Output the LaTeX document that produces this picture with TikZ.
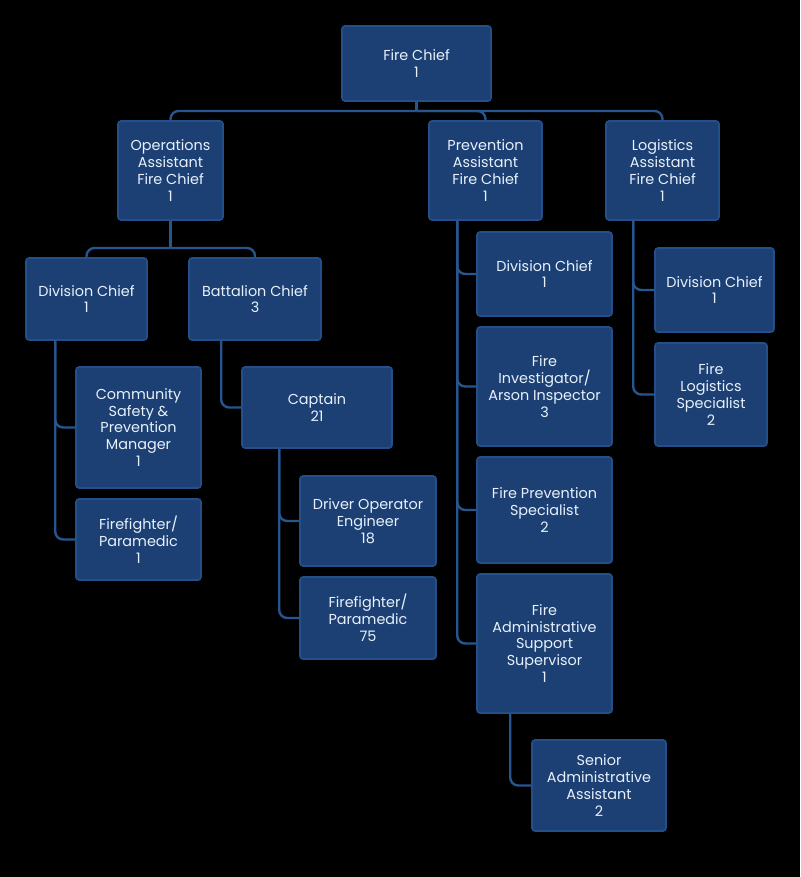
\documentclass[tikz,border=0pt]{standalone}
\usepackage{fontspec}
\setmainfont{Poppins}
\usetikzlibrary{calc}

\definecolor{boxblue}{HTML}{1C4073}
\definecolor{edgeblue}{HTML}{24508A}
\definecolor{lineblue}{HTML}{27558F}
\definecolor{txtblue}{HTML}{E8F1FB}

\tikzset{
  post/.style={draw=edgeblue, line width=0.8pt, fill=boxblue, rounded corners=1.5pt,
    text=txtblue, align=center, inner sep=0pt, font=\fontsize{7.2}{8.4}\selectfont},
  link/.style={draw=lineblue, line width=1.2pt, rounded corners=4pt}
}

\begin{document}
\begin{tikzpicture}[x=0.5pt,y=-0.5pt]
\fill[black] (0,0) rectangle (800,877);
\useasboundingbox (0,0) rectangle (800,877);
% top
\node[post, minimum width=74.5pt, minimum height=37.5pt] (fchief) at (416.5,63.5) {Fire Chief\\1};
\node[post, minimum width=52.5pt, minimum height=49.5pt] (opsafc) at (170.5,170.5) {Operations\\Assistant\\Fire Chief\\1};
\node[post, minimum width=56.5pt, minimum height=49.5pt] (prvafc) at (485.5,170.5) {Prevention\\Assistant\\Fire Chief\\1};
\node[post, minimum width=56.5pt, minimum height=49.5pt] (logafc) at (662.5,170.5) {Logistics\\Assistant\\Fire Chief\\1};
% operations
\node[post, minimum width=60.5pt, minimum height=41pt] (opsdiv) at (86.5,299) {Division Chief\\1};
\node[post, minimum width=66pt, minimum height=41pt] (batchief) at (255,299) {Battalion Chief\\3};
\node[post, minimum width=62.5pt, minimum height=60.5pt] (comsafe) at (138.5,427.5) {Community\\Safety \&\\Prevention\\Manager\\1};
\node[post, minimum width=62.5pt, minimum height=40.5pt] (ffpara) at (138.5,539.5) {Firefighter/\\Paramedic\\1};
\node[post, minimum width=75pt, minimum height=40.5pt] (captain) at (317,407.5) {Captain\\21};
\node[post, minimum width=68pt, minimum height=45pt] (driver) at (368,521) {Driver Operator\\Engineer\\18};
\node[post, minimum width=68pt, minimum height=41pt] (ffparab) at (368,618) {Firefighter/\\Paramedic\\75};
% prevention
\node[post, minimum width=67.5pt, minimum height=42pt] (prvdiv) at (544.5,274) {Division Chief\\1};
\node[post, minimum width=67.5pt, minimum height=59.5pt] (arson) at (544.5,386.5) {Fire\\Investigator/\\Arson Inspector\\3};
\node[post, minimum width=67.5pt, minimum height=53pt] (prvspec) at (544.5,510) {Fire Prevention\\Specialist\\2};
\node[post, minimum width=67.5pt, minimum height=69.5pt] (adminsup) at (544.5,643.5) {Fire\\Administrative\\Support\\Supervisor\\1};
\node[post, minimum width=67pt, minimum height=45.5pt] (senadmin) at (599,785.5) {Senior\\Administrative\\Assistant\\2};
% logistics
\node[post, minimum width=59.5pt, minimum height=42pt] (logdiv) at (714.5,290) {Division Chief\\1};
\node[post, minimum width=56pt, minimum height=51.5pt] (logspec) at (711,394.5) {Fire\\Logistics\\Specialist\\2};

\coordinate (topbus) at (416.5,111);
\coordinate (opsbus) at (170.5,248);
\draw[link] (fchief.south) -- (topbus);
\draw[link] (topbus) -| (opsafc.north);
\draw[link] (topbus) -| (prvafc.north);
\draw[link] (topbus) -| (logafc.north);
\draw[link] (opsafc.south) -- (opsbus);
\draw[link] (opsbus) -| (opsdiv.north);
\draw[link] (opsbus) -| (batchief.north);
\draw[link] ([xshift=15pt]opsdiv.south west) |- (comsafe.west);
\draw[link] ([xshift=15pt]opsdiv.south west) |- (ffpara.west);
\draw[link] ([xshift=16.5pt]batchief.south west) |- (captain.west);
\draw[link] ([xshift=19pt]captain.south west) |- (driver.west);
\draw[link] ([xshift=19pt]captain.south west) |- (ffparab.west);
\draw[link] ([xshift=14.5pt]prvafc.south west) |- (prvdiv.west);
\draw[link] ([xshift=14.5pt]prvafc.south west) |- (arson.west);
\draw[link] ([xshift=14.5pt]prvafc.south west) |- (prvspec.west);
\draw[link] ([xshift=14.5pt]prvafc.south west) |- (adminsup.west);
\draw[link] ([xshift=17pt]adminsup.south west) |- (senadmin.west);
\draw[link] ([xshift=14pt]logafc.south west) |- (logdiv.west);
\draw[link] ([xshift=14pt]logafc.south west) |- (logspec.west);
\end{tikzpicture}
\end{document}
